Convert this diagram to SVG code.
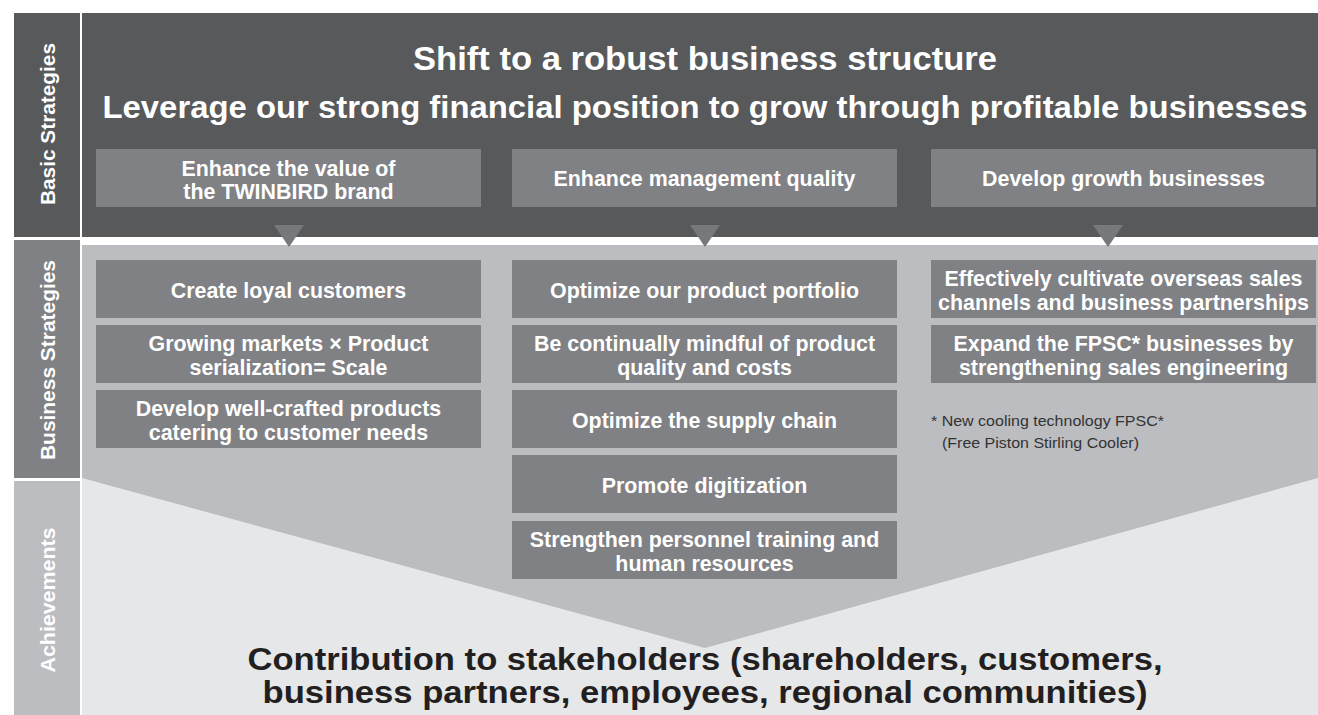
<svg xmlns="http://www.w3.org/2000/svg" width="1318" height="715" viewBox="0 0 1318 715">
<style>
.lbl{font-family:"Liberation Sans",Arial,sans-serif;font-weight:bold;fill:#ffffff;text-anchor:middle}
.box{fill:#808184}
.bt{font-family:"Liberation Sans",Arial,sans-serif;font-weight:bold;font-size:21.4px;fill:#ffffff;text-anchor:middle}
.big{font-family:"Liberation Sans",Arial,sans-serif;font-weight:bold;text-anchor:middle}
.note{font-family:"Liberation Sans",Arial,sans-serif;font-size:15.5px;fill:#333333}
.arr{fill:#77787b}
</style>
<rect x="0" y="0" width="1318" height="715" fill="#ffffff"/>
<!-- left label column -->
<g id="label-basic">
<rect x="14" y="13" width="66" height="224" fill="#58595b"/>
<text class="lbl" font-size="20" transform="translate(55,124) rotate(-90)" textLength="162" lengthAdjust="spacingAndGlyphs">Basic Strategies</text>
</g>
<g id="label-business">
<rect x="14" y="240" width="66" height="238" fill="#808184"/>
<text class="lbl" font-size="20" transform="translate(55,360) rotate(-90)" textLength="200" lengthAdjust="spacingAndGlyphs">Business Strategies</text>
</g>
<g id="label-achievements">
<rect x="14" y="481" width="66" height="234" fill="#bcbdc1"/>
<text class="lbl" font-size="20" transform="translate(55,600) rotate(-90)" textLength="145" lengthAdjust="spacingAndGlyphs">Achievements</text>
</g>
<!-- main panels -->
<g id="basic-panel">
<rect x="82" y="13" width="1236" height="224" fill="#58595b"/>
<text class="big" font-size="33" fill="#ffffff" x="705" y="70" textLength="584" lengthAdjust="spacingAndGlyphs">Shift to a robust business structure</text>
<text class="big" font-size="32" fill="#ffffff" x="705" y="118" textLength="1205" lengthAdjust="spacingAndGlyphs">Leverage our strong financial position to grow through profitable businesses</text>
</g>
<g id="lower-panel">
<rect x="82" y="245" width="1236" height="470" fill="#e6e7e8"/>
<polygon points="82,245 1318,245 1318,478 705,648 82,478" fill="#bcbdc1"/>
</g>
<!-- basic strategy boxes -->
<g id="basic-1">
<rect class="box" x="96" y="149" width="385" height="58"/>
<text class="bt" x="288.5" y="176">Enhance the value of</text>
<text class="bt" x="288.5" y="199">the TWINBIRD brand</text>
</g>
<g id="basic-2">
<rect class="box" x="512" y="149" width="385" height="58"/>
<text class="bt" x="704.5" y="186">Enhance management quality</text>
</g>
<g id="basic-3">
<rect class="box" x="931" y="149" width="385" height="58"/>
<text class="bt" x="1123.5" y="186">Develop growth businesses</text>
</g>
<!-- connectors -->
<g id="connectors">
<polygon class="arr" points="274,225 304,225 289,247"/>
<polygon class="arr" points="690,225 720,225 705,247"/>
<polygon class="arr" points="1093,225 1123,225 1108,247"/>
</g>
<!-- business strategies: left -->
<g id="bs-left-1">
<rect class="box" x="96" y="260" width="385" height="58"/>
<text class="bt" x="288.5" y="298">Create loyal customers</text>
</g>
<g id="bs-left-2">
<rect class="box" x="96" y="325" width="385" height="58"/>
<text class="bt" x="288.5" y="351">Growing markets × Product</text>
<text class="bt" x="288.5" y="375">serialization= Scale</text>
</g>
<g id="bs-left-3">
<rect class="box" x="96" y="390" width="385" height="58"/>
<text class="bt" x="288.5" y="416">Develop well-crafted products</text>
<text class="bt" x="288.5" y="440">catering to customer needs</text>
</g>
<!-- business strategies: middle -->
<g id="bs-mid-1">
<rect class="box" x="512" y="260" width="385" height="58"/>
<text class="bt" x="704.5" y="298">Optimize our product portfolio</text>
</g>
<g id="bs-mid-2">
<rect class="box" x="512" y="325" width="385" height="58"/>
<text class="bt" x="704.5" y="351">Be continually mindful of product</text>
<text class="bt" x="704.5" y="375">quality and costs</text>
</g>
<g id="bs-mid-3">
<rect class="box" x="512" y="390" width="385" height="58"/>
<text class="bt" x="704.5" y="428">Optimize the supply chain</text>
</g>
<g id="bs-mid-4">
<rect class="box" x="512" y="455" width="385" height="58"/>
<text class="bt" x="704.5" y="493">Promote digitization</text>
</g>
<g id="bs-mid-5">
<rect class="box" x="512" y="521" width="385" height="58"/>
<text class="bt" x="704.5" y="547">Strengthen personnel training and</text>
<text class="bt" x="704.5" y="571">human resources</text>
</g>
<!-- business strategies: right -->
<g id="bs-right-1">
<rect class="box" x="931" y="260" width="385" height="58"/>
<text class="bt" x="1123.5" y="286">Effectively cultivate overseas sales</text>
<text class="bt" x="1123.5" y="310">channels and business partnerships</text>
</g>
<g id="bs-right-2">
<rect class="box" x="931" y="325" width="385" height="58"/>
<text class="bt" x="1123.5" y="351">Expand the FPSC* businesses by</text>
<text class="bt" x="1123.5" y="375">strengthening sales engineering</text>
</g>
<g id="footnote">
<text class="note" x="931" y="426" textLength="233" lengthAdjust="spacingAndGlyphs">* New cooling technology FPSC*</text>
<text class="note" x="942" y="448" textLength="197" lengthAdjust="spacingAndGlyphs">(Free Piston Stirling Cooler)</text>
</g>
<!-- achievements -->
<g id="achievements">
<text class="big" font-size="31" fill="#231f20" x="705" y="670" textLength="915" lengthAdjust="spacingAndGlyphs">Contribution to stakeholders (shareholders, customers,</text>
<text class="big" font-size="31" fill="#231f20" x="705" y="703" textLength="885" lengthAdjust="spacingAndGlyphs">business partners, employees, regional communities)</text>
</g>
</svg>
